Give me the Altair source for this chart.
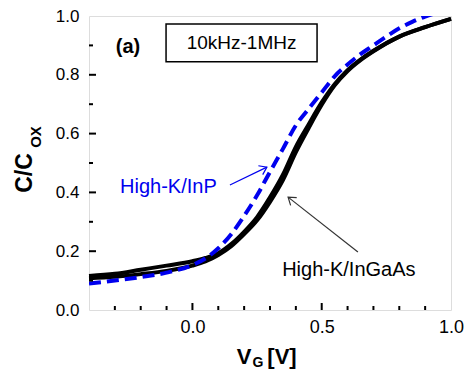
import altair as alt
import pandas as pd

# ---- data ----
vg_ingaas = [-0.4, -0.3, -0.2, -0.1, 0.0, 0.05, 0.1, 0.15, 0.2, 0.25, 0.3, 0.35, 0.4, 0.45, 0.5, 0.55, 0.6, 0.65, 0.7, 0.8, 0.9, 1.0]
c_ingaas_hi = [0.116, 0.123, 0.137, 0.151, 0.166, 0.177, 0.193, 0.224, 0.266, 0.316, 0.383, 0.460, 0.555, 0.632, 0.706, 0.768, 0.816, 0.852, 0.882, 0.930, 0.962, 0.990]
c_ingaas_lo = [0.108, 0.113, 0.122, 0.133, 0.151, 0.165, 0.187, 0.217, 0.258, 0.305, 0.368, 0.442, 0.537, 0.620, 0.698, 0.764, 0.813, 0.850, 0.880, 0.930, 0.962, 0.990]

vg_inp = [-0.4, -0.3, -0.2, -0.1, 0.0, 0.05, 0.1, 0.15, 0.2, 0.25, 0.3, 0.35, 0.4, 0.45, 0.5, 0.55, 0.6, 0.65, 0.7, 0.75, 0.8, 0.85, 0.9, 0.95]
c_inp = [0.090, 0.100, 0.112, 0.127, 0.153, 0.175, 0.210, 0.258, 0.320, 0.390, 0.470, 0.548, 0.628, 0.685, 0.740, 0.795, 0.835, 0.870, 0.900, 0.930, 0.958, 0.980, 0.998, 1.012]

x_major_ticks = [0.0, 0.5, 1.0]
x_minor_ticks = [-0.3, -0.2, -0.1, 0.1, 0.2, 0.3, 0.4, 0.6, 0.7, 0.8, 0.9]
y_label_ticks = [0.0, 0.2, 0.4, 0.6, 0.8, 1.0]
y_major_ticks = [0.2, 0.4, 0.6, 0.8]
y_minor_ticks = [0.1, 0.3, 0.5, 0.7, 0.9]

labels_text = ["High-K/InP", "High-K/InGaAs"]
labels_x = [-0.093, 0.605]
labels_y = [0.418, 0.136]
labels_color = ["#0000ee", "#000000"]

arrow_x0 = [0.145, 0.640]
arrow_y0 = [0.425, 0.197]
arrow_x1 = [0.288, 0.370]
arrow_y1 = [0.486, 0.384]
arrow_angle = [334, 218]
arrow_color = ["#0000ee", "#333333"]

box_text = "10kHz-1MHz"
box_x = [-0.102, 0.482]
box_y = [0.844, 0.973]
panel_text = "(a)"
panel_xy = [-0.249, 0.896]

W, H = 362, 294
FONT = "Liberation Sans"

xs = alt.Scale(domain=[-0.4, 1.0], nice=False, zero=False)
ys = alt.Scale(domain=[0.0, 1.0], nice=False, zero=False)
xaxis = alt.Axis(values=x_major_ticks, format=".1f", labelFontSize=18, labelFont=FONT,
                 labelColor="black", tickSize=0, domain=False, grid=False, labelPadding=8,
                 title=None, labelFlush=False)
yaxis = alt.Axis(values=y_label_ticks, format=".1f", labelFontSize=17, labelFont=FONT,
                 labelColor="black", tickSize=0, domain=False, grid=False, labelPadding=10,
                 title=None, labelFlush=False)


def X(f):
    return alt.X(f, type="quantitative", scale=xs, axis=xaxis)


def Y(f):
    return alt.Y(f, type="quantitative", scale=ys, axis=yaxis)


black_df = pd.DataFrame({
    "vg": vg_ingaas * 2,
    "c": c_ingaas_hi + c_ingaas_lo,
    "s": ["10kHz"] * len(vg_ingaas) + ["1MHz"] * len(vg_ingaas),
})
blue_df = pd.DataFrame({"vg": vg_inp, "c": c_inp})

black = alt.Chart(black_df).mark_line(color="black", strokeWidth=4, interpolate="monotone").encode(
    x=X("vg"), y=Y("c"), detail="s:N")
blue = alt.Chart(blue_df).mark_line(color="#0000ee", strokeWidth=4, strokeDash=[12, 6],
                                    interpolate="monotone", clip=True).encode(x=X("vg"), y=Y("c"))

xmaj = alt.Chart(pd.DataFrame({"t": x_major_ticks[:-1]})).mark_rule(color="black", strokeWidth=2).encode(
    x=X("t"), y=alt.value(H), y2=alt.value(H - 7))
xmin = alt.Chart(pd.DataFrame({"t": x_minor_ticks})).mark_rule(color="black", strokeWidth=2).encode(
    x=X("t"), y=alt.value(H), y2=alt.value(H - 4))
ymaj = alt.Chart(pd.DataFrame({"t": y_major_ticks})).mark_rule(color="black", strokeWidth=2).encode(
    y=Y("t"), x=alt.value(0), x2=alt.value(7))
ymin = alt.Chart(pd.DataFrame({"t": y_minor_ticks})).mark_rule(color="black", strokeWidth=2).encode(
    y=Y("t"), x=alt.value(0), x2=alt.value(4))

box = alt.Chart(pd.DataFrame({"x0": [box_x[0]], "x1": [box_x[1]], "y0": [box_y[0]], "y1": [box_y[1]]})).mark_rect(
    fill="white", stroke="black", strokeWidth=1.5).encode(x=X("x0"), x2="x1", y=Y("y0"), y2="y1")
box_lbl = alt.Chart(pd.DataFrame({"x": [(box_x[0] + box_x[1]) / 2], "y": [(box_y[0] + box_y[1]) / 2], "t": [box_text]})).mark_text(
    font=FONT, fontSize=19, color="black", baseline="middle", align="center").encode(x=X("x"), y=Y("y"), text="t:N")
panel = alt.Chart(pd.DataFrame({"x": [panel_xy[0]], "y": [panel_xy[1]], "t": [panel_text]})).mark_text(
    font=FONT, fontSize=20, fontWeight="bold", color="black", baseline="middle", align="center").encode(
    x=X("x"), y=Y("y"), text="t:N")

lab_df = pd.DataFrame({"x": labels_x, "y": labels_y, "t": labels_text, "col": labels_color})
labels = alt.Chart(lab_df).mark_text(font=FONT, fontSize=20, baseline="middle", align="center").encode(
    x=X("x"), y=Y("y"), text="t:N", color=alt.Color("col:N", scale=None))

arr_df = pd.DataFrame({"x0": arrow_x0, "y0": arrow_y0, "x1": arrow_x1, "y1": arrow_y1,
                       "ang": arrow_angle, "col": arrow_color})
arr_lines = alt.Chart(arr_df).mark_rule(strokeWidth=1.2).encode(
    x=X("x0"), y=Y("y0"), x2="x1", y2="y1", color=alt.Color("col:N", scale=None))
arr_heads = alt.Chart(arr_df).mark_point(shape="M-1,-0.7L0,0L-1,0.7", filled=False, strokeWidth=1.2,
                                         size=200, opacity=1).encode(
    x=X("x1"), y=Y("y1"), angle=alt.Angle("ang:Q", scale=None), color=alt.Color("col:N", scale=None))

# axis titles (with subscripts)
ytitle = alt.Chart(pd.DataFrame({"t": ["C/C"]})).mark_text(
    font=FONT, fontSize=23, fontWeight="bold", angle=270, align="center", baseline="middle", color="black").encode(
    text="t:N", x=alt.value(-64), y=alt.value(157))
ysub = alt.Chart(pd.DataFrame({"t": ["OX"]})).mark_text(
    font=FONT, fontSize=15, fontWeight="bold", angle=270, align="center", baseline="middle", color="black").encode(
    text="t:N", x=alt.value(-53), y=alt.value(121))
xtitle = alt.Chart(pd.DataFrame({"t": ["V"]})).mark_text(
    font=FONT, fontSize=22, fontWeight="bold", align="center", baseline="middle", color="black").encode(
    text="t:N", x=alt.value(155), y=alt.value(341))
xsub = alt.Chart(pd.DataFrame({"t": ["G"]})).mark_text(
    font=FONT, fontSize=14, fontWeight="bold", align="center", baseline="middle", color="black").encode(
    text="t:N", x=alt.value(169), y=alt.value(347))
xunit = alt.Chart(pd.DataFrame({"t": ["[V]"]})).mark_text(
    font=FONT, fontSize=22, fontWeight="bold", align="center", baseline="middle", color="black").encode(
    text="t:N", x=alt.value(193), y=alt.value(341))

chart = alt.layer(
    black, blue, xmaj, xmin, ymaj, ymin, box, box_lbl, panel, labels, arr_lines, arr_heads,
    ytitle, ysub, xtitle, xsub, xunit
).properties(
    width=W, height=H,
    autosize=alt.AutoSizeParams(type="none"),
    padding={"left": 81, "top": 8, "right": 14, "bottom": 60},
).configure_view(stroke="black", strokeWidth=2.5).configure(background="white")

chart.save("out.html", embed_options={"renderer": "svg", "actions": False})
